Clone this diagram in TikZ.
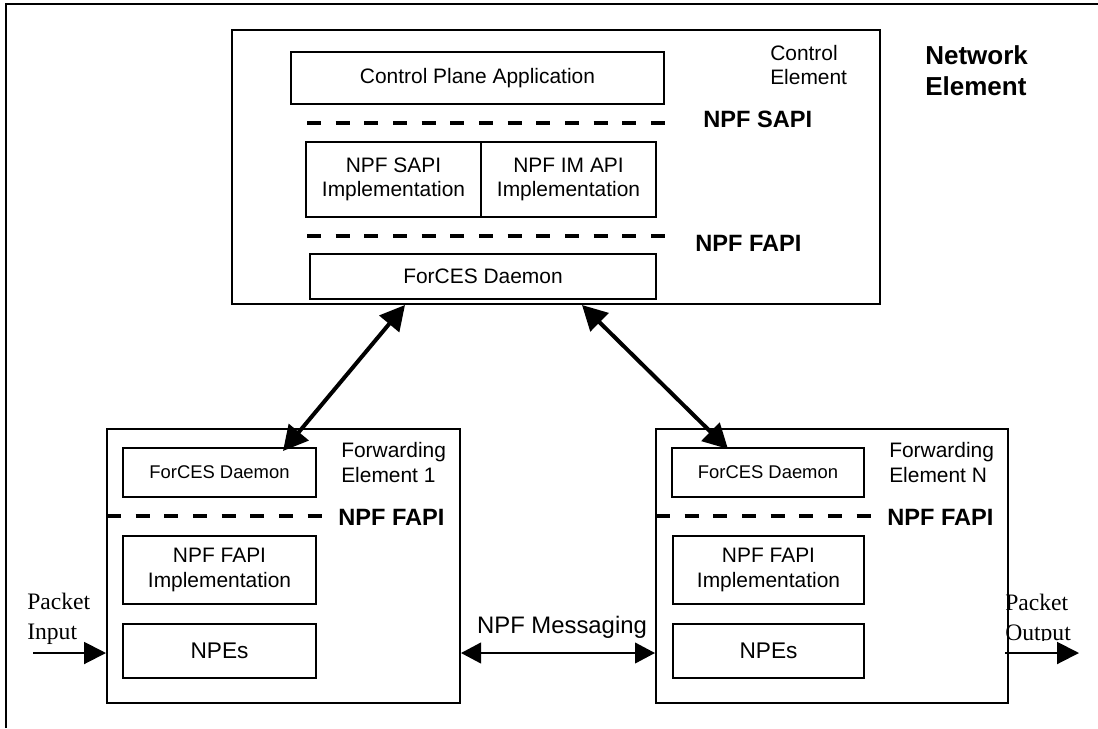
\documentclass[tikz,border=0pt]{standalone}
\usepackage{fontspec}
\setmainfont{Liberation Sans}
\newfontfamily\serifface{Liberation Serif}
\usetikzlibrary{arrows.meta}

\newcommand{\fsz}[2]{\fontsize{#1}{#2}\selectfont}

\tikzset{
  unitbox/.style={draw, line width=1.1pt, inner sep=0pt, align=center,
                  font=\fsz{15.7}{18.5}},
  element/.style={draw, line width=1.5pt, inner sep=0pt},
  apiline/.style={line width=3pt, dash pattern=on 10.5pt off 11pt},
  apilabel/.style={anchor=west, inner sep=0pt, font=\bfseries\fsz{17.7}{21}},
  elemlabel/.style={anchor=west, inner sep=0pt, align=left, font=\fsz{15.7}{18.5}},
  ctrllink/.style={line width=3pt,
                   {Triangle[length=18.5pt,width=19pt]}-{Triangle[length=18.5pt,width=19pt]}},
  pktarrow/.style={line width=1.5pt, -{Triangle[length=16.5pt,width=16.5pt]}},
  msgarrow/.style={line width=1.5pt,
                   {Triangle[length=15pt,width=15.5pt]}-{Triangle[length=15pt,width=15.5pt]}},
  pktlabel/.style={anchor=west, inner sep=0pt, align=left, font=\serifface\fsz{17.7}{22.5}}
}

\begin{document}
\begin{tikzpicture}[x=0.75pt, y=-0.75pt]
\useasboundingbox (0,0) rectangle (1098,728);

% outer frame (only top and left edges fall inside the page)
\draw[line width=1.5pt] (6,728) -- (6,4) -- (1098,4);

% ---------------- Control Element ----------------
\node[element, minimum width=486pt, minimum height=205.5pt] (ce) at (556,167) {};
\node[elemlabel] (celabel) at (770,65) {Control\\Element};
\node[anchor=west, inner sep=0pt, align=left, font=\bfseries\fsz{19.5}{23}] (nelabel) at (925,70.5) {Network\\Element};

\node[unitbox, minimum width=279.75pt, minimum height=39pt] (cpa) at (477.5,78) {Control Plane Application};
\draw[apiline] (307,123) -- (673,123);
\node[apilabel] (sapilabel) at (703,119) {NPF SAPI};

\node[unitbox, minimum width=131.25pt, minimum height=56.25pt] (sapi) at (393.5,179.5) {NPF SAPI\\Implementation};
\node[unitbox, minimum width=131.25pt, minimum height=56.25pt] (imapi) at (568.5,179.5) {NPF IM API\\Implementation};
\draw[apiline] (307,236) -- (673,236);
\node[apilabel] (fapilabel) at (695,243) {NPF FAPI};

\node[unitbox, minimum width=259.5pt, minimum height=33.75pt] (ced) at (483,276.5) {ForCES Daemon};

% ---------------- Forwarding Element 1 ----------------
\node[element, minimum width=264.75pt, minimum height=205.5pt] (fe1) at (283.5,566) {};
\node[elemlabel] (fe1label) at (341,462.5) {Forwarding\\Element 1};
\node[unitbox, font=\fsz{13.8}{16}, minimum width=144.75pt, minimum height=36.75pt] (fd1) at (219.5,472.5) {ForCES Daemon};
\draw[apiline] (107,516) -- (327,516);
\node[apilabel] (fe1api) at (338,517) {NPF FAPI};
\node[unitbox, minimum width=144.75pt, minimum height=51pt] (impl1) at (219.5,570) {NPF FAPI\\Implementation};
\node[unitbox, font=\fsz{17}{20}, minimum width=144.75pt, minimum height=40.5pt] (npe1) at (219.5,651) {NPEs};

% ---------------- Forwarding Element N ----------------
\node[element, minimum width=264pt, minimum height=205.5pt] (fen) at (832,566) {};
\node[elemlabel] (fenlabel) at (889,462.5) {Forwarding\\Element N};
\node[unitbox, font=\fsz{13.8}{16}, minimum width=144pt, minimum height=36.75pt] (fdn) at (768,472.5) {ForCES Daemon};
\draw[apiline] (656,516) -- (875,516);
\node[apilabel] (fenapi) at (887,517) {NPF FAPI};
\node[unitbox, minimum width=143.25pt, minimum height=51pt] (impln) at (768.5,570) {NPF FAPI\\Implementation};
\node[unitbox, font=\fsz{17}{20}, minimum width=143.25pt, minimum height=40.5pt] (npen) at (768.5,651) {NPEs};

% ---------------- control links ----------------
\coordinate (ceL) at (405,305);
\coordinate (ceR) at (582,305);
\coordinate (fd1T) at (283,451);
\coordinate (fdnT) at (728,449);
\draw[ctrllink] (ceL) -- (fd1T);
\draw[ctrllink] (ceR) -- (fdnT);

% ---------------- packet path ----------------
\coordinate (pin) at (33,653);
\draw[pktarrow] (pin) -- (pin -| fe1.west);
\node[pktlabel] (pinlabel) at (27,619) {Packet\\Input};

\coordinate (msg) at (560,653);
\draw[msgarrow] (msg -| fe1.east) -- (msg -| fen.west);
\node[font=\fsz{17.9}{21}, inner sep=0pt] (msglabel) at (562,627) {NPF Messaging};

\coordinate (pout) at (1005,653);
\coordinate (poutEnd) at (1079,653);
\draw[pktarrow] (pout) -- (poutEnd);
\begin{scope}
  \clip (990,580) rectangle (1098,640);
  \node[pktlabel] (poutlabel) at (1005,619.5) {Packet\\Output};
\end{scope}
\end{tikzpicture}
\end{document}
